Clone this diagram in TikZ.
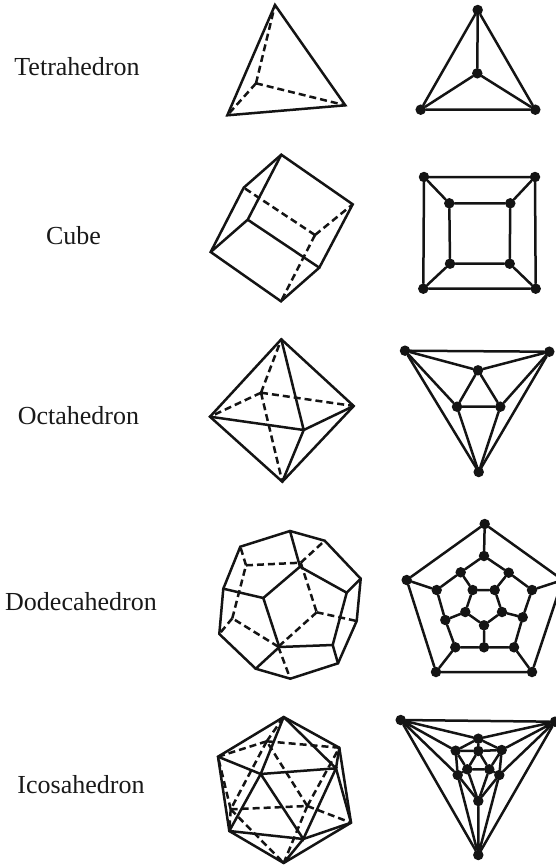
\documentclass[tikz,border=0pt]{standalone}
\usepackage{fontspec}
\setmainfont{Liberation Serif}
\begin{document}
\begin{tikzpicture}[
  x=1pt, y=-1pt,
  every node/.style={font=\fontsize{26}{30}\selectfont},
  label/.style={anchor=base, text=black!90},
  edge/.style={line width=2.5pt, line cap=round, black!92},
  hidden/.style={edge, line cap=butt, dash pattern=on 7pt off 4pt},
  vtx/.style={circle, fill=black!92, inner sep=0pt, minimum size=10.5pt},
]
\useasboundingbox (0,0) rectangle (556,865);

% Labels
\node[label] (ltetra) at (77,75) {Tetrahedron};
\node[label] (lcube) at (73.5,244.5) {Cube};
\node[label] (locta) at (78.5,424) {Octahedron};
\node[label] (ldodeca) at (81,610) {Dodecahedron};
\node[label] (licosa) at (81,793) {Icosahedron};

% Row 1: Tetrahedron
\coordinate (ta) at (275,5);
\coordinate (tb) at (227.3,115.3);
\coordinate (tc) at (345.3,105.3);
\coordinate (td) at (256,83.3);
\draw[edge] (ta) -- (tb) -- (tc) -- cycle;
\draw[hidden] (td) -- (ta) (td) -- (tb) (td) -- (tc);

\node[vtx] (ga) at (477.7,10) {};
\node[vtx] (gb) at (420.7,109.7) {};
\node[vtx] (gc) at (535.3,109.7) {};
\node[vtx] (gd) at (477.3,73.3) {};
\draw[edge] (ga) -- (gb) (gb) -- (gc) (gc) -- (ga) (ga) -- (gd) (gb) -- (gd) (gc) -- (gd);

% Row 2: Cube
\coordinate (ca) at (281.3,154.7);
\coordinate (cb) at (352.7,204.3);
\coordinate (cc) at (319.3,267.7);
\coordinate (cd) at (281,301.3);
\coordinate (ce) at (210.7,252);
\coordinate (cf) at (243.7,187.7);
\coordinate (cg) at (247.7,219.7);
\coordinate (ch) at (315,235);
\draw[edge] (ca) -- (cb) -- (cc) -- (cd) -- (ce) -- (cf) -- cycle;
\draw[edge] (ca) -- (cg) (cg) -- (ce) (cg) -- (cc);
\draw[hidden] (ch) -- (cf) (ch) -- (cb) (ch) -- (cd);

\node[vtx] (sa) at (424,177) {};
\node[vtx] (sb) at (535,177) {};
\node[vtx] (sc) at (535.7,288.7) {};
\node[vtx] (sd) at (423.3,288.7) {};
\node[vtx] (se) at (449.3,203.3) {};
\node[vtx] (sf) at (510.3,203.3) {};
\node[vtx] (sg) at (509.7,263.7) {};
\node[vtx] (sh) at (450,263.7) {};
\draw[edge] (sa) -- (sb) (sb) -- (sc) (sc) -- (sd) (sd) -- (sa);
\draw[edge] (se) -- (sf) (sf) -- (sg) (sg) -- (sh) (sh) -- (se);
\draw[edge] (sa) -- (se) (sb) -- (sf) (sc) -- (sg) (sd) -- (sh);

% Row 3: Octahedron
\coordinate (oa) at (281.3,339.3);
\coordinate (ob) at (210,416.7);
\coordinate (oc) at (353.7,406);
\coordinate (od) at (282.3,481.7);
\coordinate (oe) at (303.7,430);
\coordinate (of) at (261,392.7);
\draw[edge] (oa) -- (ob) -- (od) -- (oc) -- cycle;
\draw[edge] (oe) -- (oa) (oe) -- (ob) (oe) -- (oc) (oe) -- (od);
\draw[hidden] (of) -- (oa) (of) -- (ob) (of) -- (oc) (of) -- (od);

\node[vtx] (ra) at (405,350.7) {};
\node[vtx] (rb) at (549.3,351.7) {};
\node[vtx] (rc) at (478.7,472) {};
\node[vtx] (rd) at (478,370.3) {};
\node[vtx] (re) at (457,406.7) {};
\node[vtx] (rf) at (500.3,406.7) {};
\draw[edge] (ra) -- (rb) (rb) -- (rc) (rc) -- (ra);
\draw[edge] (rd) -- (re) (re) -- (rf) (rf) -- (rd);
\draw[edge] (ra) -- (rd) (rb) -- (rd) (ra) -- (re) (rb) -- (rf) (rc) -- (re) (rc) -- (rf);

% Row 4: Dodecahedron
\coordinate (da) at (290,531);
\coordinate (db) at (324.7,540.7);
\coordinate (dc) at (360.7,578.7);
\coordinate (dd) at (356.7,621);
\coordinate (de) at (338,663.3);
\coordinate (df) at (290.3,678.7);
\coordinate (dg) at (255.7,668.7);
\coordinate (dh) at (219.3,634);
\coordinate (di) at (223.3,588.7);
\coordinate (dj) at (240.3,546.7);
\coordinate (dk) at (300,566.7);
\coordinate (dl) at (346.7,592.7);
\coordinate (dm) at (332.7,645);
\coordinate (dn) at (279.3,647);
\coordinate (do) at (263.3,598);
\coordinate (dp) at (246,565.3);
\coordinate (dq) at (316.7,612.3);
\coordinate (dr) at (232.3,618.3);
\coordinate (ds) at (300.7,562.7);
\coordinate (dt) at (278.3,646.7);
\draw[edge] (da) -- (db) -- (dc) -- (dd) -- (de) -- (df) -- (dg) -- (dh) -- (di) -- (dj) -- cycle;
\draw[edge] (dk) -- (dl) -- (dm) -- (dn) -- (do) -- cycle;
\draw[edge] (da) -- (dk) (dc) -- (dl) (de) -- (dm) (dg) -- (dn) (di) -- (do);
\draw[hidden] (dp) -- (ds) (ds) -- (dq) (dq) -- (dt) (dt) -- (dr) (dr) -- (dp);
\draw[hidden] (dp) -- (dj) (ds) -- (db) (dq) -- (dd) (dt) -- (df) (dr) -- (dh);

\node[vtx] (pa) at (484.7,524) {};
\node[vtx] (pb) at (406.7,580) {};
\node[vtx] (pc) at (436,672) {};
\node[vtx] (pd) at (532,672) {};
\node[vtx] (pe) at (562.7,580) {};
\node[vtx] (qa) at (484,556) {};
\node[vtx] (qb) at (508.7,572.7) {};
\node[vtx] (qc) at (532,590) {};
\node[vtx] (qd) at (522.7,617.3) {};
\node[vtx] (qe) at (514,647.3) {};
\node[vtx] (qf) at (484,647.3) {};
\node[vtx] (qg) at (455.3,647.3) {};
\node[vtx] (qh) at (445.3,620) {};
\node[vtx] (qi) at (436.7,590) {};
\node[vtx] (qj) at (460.7,572.3) {};
\node[vtx] (ua) at (472.7,590) {};
\node[vtx] (ub) at (494.7,590) {};
\node[vtx] (uc) at (502,612) {};
\node[vtx] (ud) at (484,625.3) {};
\node[vtx] (ue) at (465.3,612) {};
\draw[edge] (pa) -- (pb) (pb) -- (pc) (pc) -- (pd) (pd) -- (pe) (pe) -- (pa);
\draw[edge] (pa) -- (qa) (pb) -- (qi) (pc) -- (qg) (pd) -- (qe) (pe) -- (qc);
\draw[edge] (qa) -- (qb) (qb) -- (qc) (qc) -- (qd) (qd) -- (qe) (qe) -- (qf) (qf) -- (qg) (qg) -- (qh) (qh) -- (qi) (qi) -- (qj) (qj) -- (qa);
\draw[edge] (qb) -- (ub) (qj) -- (ua) (qd) -- (uc) (qh) -- (ue) (qf) -- (ud);
\draw[edge] (ua) -- (ub) (ub) -- (uc) (uc) -- (ud) (ud) -- (ue) (ue) -- (ua);

% Row 5: Icosahedron
\coordinate (ia) at (283.7,717);
\coordinate (ib) at (218,756.7);
\coordinate (ic) at (339.3,747.7);
\coordinate (id) at (351,822.7);
\coordinate (ie) at (283.7,863);
\coordinate (if) at (229.3,831);
\coordinate (ig) at (260.7,774);
\coordinate (ih) at (336,768.3);
\coordinate (ij) at (303.3,839);
\coordinate (ik) at (266.7,741.3);
\coordinate (il) at (230.7,809.3);
\coordinate (im) at (307.3,806);
\draw[edge] (ia) -- (ib) -- (if) -- (ie) -- (id) -- (ic) -- cycle;
\draw[edge] (ig) -- (ih) -- (ij) -- cycle;
\draw[edge] (ia) -- (ig) (ia) -- (ih) (ib) -- (ig) (if) -- (ig) (if) -- (ij);
\draw[edge] (ie) -- (ij) (id) -- (ij) (id) -- (ih) (ic) -- (ih);
\draw[hidden] (ik) -- (il) (il) -- (im) (im) -- (ik);
\draw[hidden] (ik) -- (ia) (ik) -- (ib) (ik) -- (ic);
\draw[hidden] (il) -- (ib) (il) -- (if) (il) -- (ie);
\draw[hidden] (im) -- (ic) (im) -- (id) (im) -- (ie);

\node[vtx] (va) at (400.7,720) {};
\node[vtx] (vb) at (555,721.7) {};
\node[vtx] (vc) at (478.3,855) {};
\node[vtx] (wa) at (478.3,738.7) {};
\node[vtx] (wb) at (455.7,750.7) {};
\node[vtx] (wc) at (501.7,750) {};
\node[vtx] (wd) at (478.3,751) {};
\node[vtx] (we) at (467.3,769.3) {};
\node[vtx] (wf) at (489.3,769.3) {};
\node[vtx] (wg) at (457.7,775) {};
\node[vtx] (wh) at (499.3,775) {};
\node[vtx] (wi) at (478.3,801) {};
\draw[edge] (va) -- (vb) (vb) -- (vc) (vc) -- (va);
\draw[edge] (va) -- (wa) (vb) -- (wa) (va) -- (wb) (va) -- (wg) (vb) -- (wc) (vb) -- (wh);
\draw[edge] (vc) -- (wg) (vc) -- (wh) (vc) -- (wi);
\draw[edge] (wa) -- (wb) (wa) -- (wc) (wa) -- (wd);
\draw[edge] (wb) -- (wd) (wb) -- (we) (wb) -- (wg);
\draw[edge] (wc) -- (wd) (wc) -- (wf) (wc) -- (wh);
\draw[edge] (wd) -- (we) (wd) -- (wf);
\draw[edge] (we) -- (wf) (we) -- (wg) (we) -- (wi);
\draw[edge] (wf) -- (wh) (wf) -- (wi);
\draw[edge] (wg) -- (wi) (wh) -- (wi);

\end{tikzpicture}
\end{document}
